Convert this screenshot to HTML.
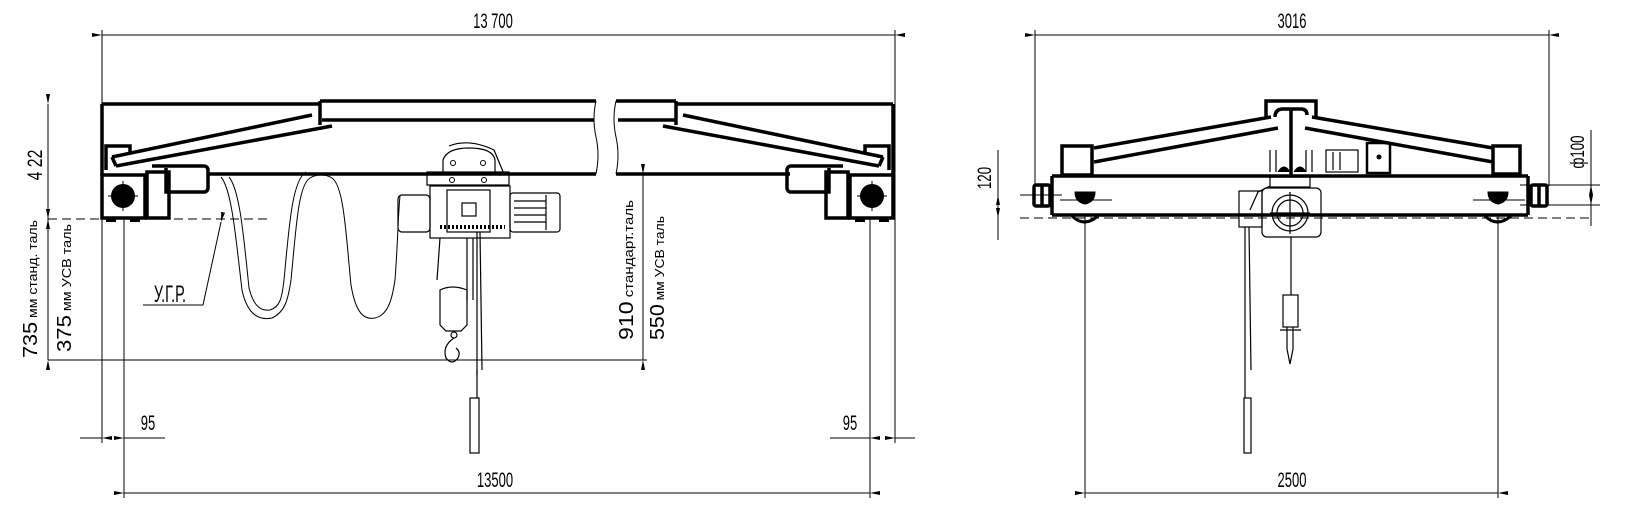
<!DOCTYPE html>
<html><head><meta charset="utf-8"><style>
html,body{margin:0;padding:0;background:#fff;}
svg{display:block;}
text{font-family:"Liberation Sans","DejaVu Sans",sans-serif;fill:#000;}
</style></head><body>
<svg width="1627" height="516" viewBox="0 0 1627 516" xmlns="http://www.w3.org/2000/svg">
<defs>
<marker id="a" viewBox="0 0 10 4" refX="0" refY="2" markerWidth="10" markerHeight="4" markerUnits="userSpaceOnUse" orient="auto-start-reverse"><path d="M0,2 L10,0 L10,4 Z" fill="#000"/></marker>
</defs>
<g stroke="#000" fill="none">
<!-- ============ LEFT VIEW ============ -->
<line x1="102" y1="35" x2="895" y2="35" stroke-width="1" marker-start="url(#a)" marker-end="url(#a)"/>
<line x1="102" y1="30" x2="102" y2="443" stroke-width="1"/>
<line x1="895" y1="30" x2="895" y2="443" stroke-width="1"/>
<g stroke-width="3.5">
<line x1="102" y1="104" x2="320" y2="104"/>
<line x1="320" y1="101" x2="596" y2="101"/>
<line x1="616" y1="101" x2="676" y2="101"/>
<line x1="676" y1="104" x2="893" y2="104"/>
<line x1="322" y1="120" x2="594" y2="120"/>
<line x1="618" y1="120" x2="676" y2="120"/>
<line x1="320" y1="101" x2="320" y2="125"/>
<line x1="676" y1="101" x2="676" y2="125"/>
<line x1="208" y1="174" x2="596" y2="174"/>
<line x1="616" y1="174" x2="790" y2="174"/>
<line x1="102" y1="104" x2="102" y2="176"/>
<line x1="893" y1="104" x2="893" y2="176"/>
<line x1="112" y1="157" x2="312" y2="115"/>
<line x1="116" y1="166" x2="332" y2="126"/>
<line x1="112" y1="157" x2="116" y2="166"/>
<polyline points="106,170 106,146 130,146 130,152"/>
<line x1="883" y1="157" x2="683" y2="115"/>
<line x1="879" y1="166" x2="663" y2="126"/>
<line x1="883" y1="157" x2="879" y2="166"/>
<polyline points="889,170 889,146 865,146 865,152"/>
</g>
<path d="M596,101 q-4,18 0,36 q4,18 0,37" stroke-width="1"/>
<path d="M616,101 q-4,18 0,36 q4,18 0,37" stroke-width="1"/>
<g stroke-width="3.5">
<rect x="102" y="175" width="43" height="43"/>
<rect x="147" y="172" width="22" height="46"/>
<path d="M152,166 h52 a4,4 0 0 1 4,4 v18 a4,4 0 0 1 -4,4 h-38 v-24"/>
<rect x="850" y="175" width="43" height="43"/>
<rect x="826" y="172" width="22" height="46"/>
<path d="M843,166 h-52 a4,4 0 0 0 -4,4 v18 a4,4 0 0 0 4,4 h38 v-24"/>
</g>
<circle cx="123" cy="196" r="12" fill="#000" stroke="none"/>
<circle cx="872" cy="196" r="12" fill="#000" stroke="none"/>
<line x1="108" y1="196" x2="138" y2="196" stroke-width="1"/><line x1="123" y1="181" x2="123" y2="211" stroke-width="1"/>
<line x1="857" y1="196" x2="887" y2="196" stroke-width="1"/><line x1="872" y1="181" x2="872" y2="211" stroke-width="1"/>
<rect x="106" y="217" width="10" height="5" fill="#000" stroke="none"/><rect x="130" y="217" width="10" height="5" fill="#000" stroke="none"/>
<rect x="855" y="217" width="10" height="5" fill="#000" stroke="none"/><rect x="879" y="217" width="10" height="5" fill="#000" stroke="none"/>
<line x1="48" y1="219" x2="268" y2="219" stroke-width="1" stroke-dasharray="9,5"/>
<line x1="48" y1="104" x2="48" y2="360" stroke-width="1"/>
<line x1="48" y1="112" x2="48" y2="104" stroke-width="1" marker-end="url(#a)"/>
<line x1="48" y1="205" x2="48" y2="219" stroke-width="1" marker-end="url(#a)"/>
<line x1="48" y1="233" x2="48" y2="219" stroke-width="1" marker-end="url(#a)"/>
<line x1="48" y1="345" x2="48" y2="360" stroke-width="1" marker-end="url(#a)"/>
<line x1="48" y1="360" x2="647" y2="360" stroke-width="1"/>
<line x1="124" y1="219" x2="124" y2="498" stroke-width="1"/>
<line x1="643" y1="174" x2="643" y2="360" stroke-width="1" marker-start="url(#a)" marker-end="url(#a)"/>
<line x1="870" y1="219" x2="870" y2="498" stroke-width="1"/>
<line x1="80" y1="438" x2="102" y2="438" stroke-width="1" marker-end="url(#a)"/>
<line x1="165" y1="438" x2="124" y2="438" stroke-width="1" marker-end="url(#a)"/>
<line x1="915" y1="438" x2="895" y2="438" stroke-width="1" marker-end="url(#a)"/>
<line x1="830" y1="438" x2="870" y2="438" stroke-width="1" marker-end="url(#a)"/>
<line x1="124" y1="493" x2="870" y2="493" stroke-width="1" marker-start="url(#a)" marker-end="url(#a)"/>
<polyline points="143,305 203,305 221,222" stroke-width="1" marker-end="url(#a)"/>
<!-- festoon -->
<path d="M221,177 C232,190 236,240 242,290 C248,318 262,320 272,318 C285,312 288,300 291,280 C296,230 298,185 310,178 C316,174 326,174 332,178 C344,186 346,235 351,285 C356,315 365,320 375,318 C388,315 392,300 395,280 C398,240 398,215 400,196" stroke-width="1"/>
<path d="M229,177 C240,190 244,240 249,288 C254,308 262,311 270,310 C280,307 282,298 284,280 C289,228 292,180 306,172" stroke-width="1"/>
<!-- hoist -->
<g stroke-width="1.2">
<path d="M443,174 v-14 q4,-12 26,-12 q24,0 26,12 v14"/>
<path d="M449,146 q20,-8 45,4 l10,24" />
<rect x="427" y="172" width="82" height="13"/>
<rect x="430" y="186" width="80" height="52"/>
<rect x="447" y="190" width="43" height="42"/>
<rect x="462" y="203" width="14" height="13"/>
<rect x="398" y="195" width="32" height="37" rx="4"/>
<rect x="510" y="193" width="50" height="39" rx="3"/>
<line x1="514" y1="201" x2="546" y2="201"/><line x1="514" y1="208" x2="546" y2="208"/><line x1="514" y1="215" x2="546" y2="215"/><line x1="514" y1="222" x2="546" y2="222"/>
<line x1="546" y1="195" x2="546" y2="230"/>
<path d="M440,227 h65" stroke-width="4" stroke-dasharray="2,2"/>
<line x1="440" y1="238" x2="437" y2="280"/>
<line x1="467" y1="238" x2="467" y2="300"/>
<line x1="473" y1="238" x2="473" y2="300"/>
<line x1="477" y1="232" x2="477" y2="375"/>
<line x1="480" y1="232" x2="482" y2="370"/>
<path d="M440,290 q12,-6 27,0 v35 l-6,6 h-15 l-6,-6 z"/>
<circle cx="454" cy="335" r="3"/>
<path d="M454,338 q-12,8 -8,20 q6,8 12,0 q3,-6 -2,-10"/>
<line x1="477" y1="370" x2="477" y2="398"/>
<rect x="470" y="398" width="9" height="55"/>
</g>
<circle cx="453" cy="163" r="2.5" stroke-width="1"/><circle cx="483" cy="163" r="2.5" stroke-width="1"/>
<circle cx="452" cy="180" r="2.5" stroke-width="1"/><circle cx="484" cy="180" r="2.5" stroke-width="1"/>

<!-- ============ RIGHT VIEW ============ -->
<line x1="1035" y1="35" x2="1549" y2="35" stroke-width="1" marker-start="url(#a)" marker-end="url(#a)"/>
<line x1="1035" y1="30" x2="1035" y2="185" stroke-width="1"/>
<line x1="1549" y1="30" x2="1549" y2="186" stroke-width="1"/>
<g stroke-width="3.5">
<path d="M1266,117 v-16 h50 v16"/>
<path d="M1275,117 q0,-8 8,-8 h18 q6,0 6,6"/>
<line x1="1291" y1="108" x2="1291" y2="175"/>
<line x1="1094" y1="148" x2="1271" y2="117"/>
<line x1="1094" y1="162" x2="1278" y2="128"/>
<line x1="1493" y1="148" x2="1312" y2="117"/>
<line x1="1493" y1="162" x2="1305" y2="128"/>
<rect x="1062" y="146" width="30" height="29"/>
<rect x="1493" y="146" width="27" height="28"/>
<line x1="1052" y1="176" x2="1528" y2="176"/>
<line x1="1052" y1="215" x2="1528" y2="215"/>
<line x1="1052" y1="176" x2="1052" y2="215"/>
<line x1="1528" y1="176" x2="1528" y2="215"/>
<rect x="1034" y="185" width="16" height="21" rx="2"/>
<line x1="1042" y1="186" x2="1042" y2="205"/>
<rect x="1531" y="185" width="16" height="21" rx="2"/>
<line x1="1539" y1="186" x2="1539" y2="205"/>
</g>
<path d="M1075,192 h20 q0,10 -10,12 q-10,-2 -10,-12z" fill="#000"/>
<path d="M1488,192 h20 q0,10 -10,12 q-10,-2 -10,-12z" fill="#000"/>
<path d="M1072,216 q12,12 26,0" stroke-width="3"/>
<path d="M1485,216 q12,12 26,0" stroke-width="3"/>
<line x1="1060" y1="200" x2="1112" y2="200" stroke-width="1"/>
<line x1="1473" y1="200" x2="1525" y2="200" stroke-width="1"/>
<line x1="1020" y1="195" x2="1062" y2="195" stroke-width="1"/>
<line x1="1520" y1="185" x2="1600" y2="185" stroke-width="1"/>
<line x1="1520" y1="205" x2="1600" y2="205" stroke-width="1"/>
<line x1="1020" y1="218" x2="1590" y2="218" stroke-width="1" stroke-dasharray="9,5"/>
<line x1="998" y1="150" x2="998" y2="240" stroke-width="1"/>
<line x1="998" y1="181" x2="998" y2="195" stroke-width="1" marker-end="url(#a)"/>
<line x1="998" y1="232" x2="998" y2="218" stroke-width="1" marker-end="url(#a)"/>
<line x1="1591" y1="130" x2="1591" y2="226" stroke-width="1"/>
<line x1="1591" y1="171" x2="1591" y2="185" stroke-width="1" marker-end="url(#a)"/>
<line x1="1591" y1="219" x2="1591" y2="205" stroke-width="1" marker-end="url(#a)"/>
<g stroke-width="1.2">
<rect x="1262" y="188" width="59" height="49" rx="5"/>
<circle cx="1290" cy="213" r="18"/>
<circle cx="1290" cy="213" r="13"/>
<line x1="1290" y1="192" x2="1290" y2="234"/>
<line x1="1270" y1="213" x2="1310" y2="213"/>
<rect x="1239" y="191" width="23" height="36"/>
<path d="M1250,210 l8,-18 l12,-6" />
<rect x="1270" y="177" width="40" height="10"/>
<rect x="1326" y="150" width="32" height="22"/>
<line x1="1333" y1="152" x2="1333" y2="170"/><line x1="1340" y1="152" x2="1340" y2="170"/>
<rect x="1367" y="143" width="23" height="30" stroke-width="2.5"/>
<path d="M1270,150 v22 M1276,150 v22 M1306,150 v22 M1312,150 v22"/>
<line x1="1291" y1="237" x2="1291" y2="295"/>
<rect x="1283" y="295" width="15" height="32"/>
<path d="M1287,327 v22 l3,15 l3,-15 v-22"/>
<line x1="1280" y1="330" x2="1301" y2="330"/>
<line x1="1245" y1="227" x2="1245" y2="398"/>
<line x1="1249" y1="227" x2="1251" y2="370"/>
<rect x="1244" y="398" width="7" height="55"/>
</g>
<path d="M1278,172 q6,-10 12,0 M1294,172 q6,-10 12,0" fill="#000" stroke-width="1"/>
<circle cx="1379" cy="157" r="2.5" fill="#000" stroke="none"/>
<line x1="1085" y1="215" x2="1085" y2="498" stroke-width="1"/>
<line x1="1498" y1="215" x2="1498" y2="498" stroke-width="1"/>
<line x1="1085" y1="493" x2="1498" y2="493" stroke-width="1" marker-start="url(#a)" marker-end="url(#a)"/>
</g>
<!-- TEXT -->
<g font-size="21">
<text x="493" y="28" text-anchor="middle" transform="translate(493 0) scale(0.62 1) translate(-493 0)">13 700</text>
<text x="495" y="487" text-anchor="middle" transform="translate(495 0) scale(0.62 1) translate(-495 0)">13500</text>
<text x="148" y="430" text-anchor="middle" transform="translate(148 0) scale(0.62 1) translate(-148 0)">95</text>
<text x="850" y="430" text-anchor="middle" transform="translate(850 0) scale(0.62 1) translate(-850 0)">95</text>
<text x="1292" y="28" text-anchor="middle" transform="translate(1292 0) scale(0.62 1) translate(-1292 0)">3016</text>
<text x="1292" y="487" text-anchor="middle" transform="translate(1292 0) scale(0.62 1) translate(-1292 0)">2500</text>
<text x="170" y="302" text-anchor="middle" font-size="24" transform="translate(170 0) scale(0.6 1) translate(-170 0)">У.Г.Р.</text>
<text transform="translate(42 165) rotate(-90) scale(0.75 1)" text-anchor="middle">4 22</text>
<text transform="translate(991 178) rotate(-90) scale(0.7 1)" text-anchor="middle" font-size="19">120</text>
<text transform="translate(1584 152) rotate(-90) scale(0.7 1)" text-anchor="middle" font-size="19">ф100</text>
<text transform="translate(37 358) rotate(-90)" font-size="13" textLength="138" lengthAdjust="spacingAndGlyphs"><tspan font-size="20">735</tspan> мм станд. таль</text>
<text transform="translate(71 352) rotate(-90)" font-size="13" textLength="128" lengthAdjust="spacingAndGlyphs"><tspan font-size="20">375</tspan> мм УСВ таль</text>
<text transform="translate(633 340) rotate(-90)" font-size="13" textLength="140" lengthAdjust="spacingAndGlyphs"><tspan font-size="20">910</tspan> стандарт.таль</text>
<text transform="translate(664 340) rotate(-90)" font-size="13" textLength="124" lengthAdjust="spacingAndGlyphs"><tspan font-size="20">550</tspan> мм УСВ таль</text>
</g>
</svg>
</body></html>
